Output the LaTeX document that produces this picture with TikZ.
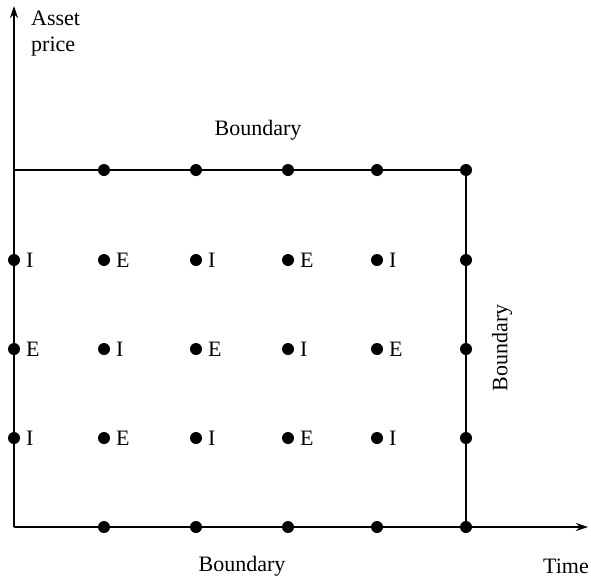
\documentclass[tikz,border=0pt]{standalone}
\usepackage{fontspec}
\setmainfont{Liberation Serif}
\usetikzlibrary{arrows.meta}
\begin{document}
\begin{tikzpicture}[x=1pt,y=-1pt,
  pt/.style={circle,fill=black,inner sep=0pt,minimum width=12pt,minimum height=12pt},
  lbl/.style={anchor=west,font=\fontsize{22}{26}\selectfont,inner sep=0pt},
  txt/.style={font=\fontsize{22}{26}\selectfont,inner sep=0pt},
  ln/.style={line width=1.3pt},
  ax/.style={line width=1.3pt,-{Stealth[length=12pt,width=8pt]}}]
\useasboundingbox (0,0) rectangle (591,581);
% axes
\coordinate (O) at (14,527);
\coordinate (Ytop) at (14,6);
\coordinate (Xend) at (588,527);
\coordinate (TL) at (14,170);
\draw[ax] (O) -- (Ytop);
\draw[ax] (O) -- (Xend);
% dots
\foreach \c/\x in {1/104,2/196,3/288,4/377,5/466} {
  \node[pt] (t\c) at (\x,170) {};
  \node[pt] (b\c) at (\x,527) {};
}
\draw[ln] (TL) -- (t5) -- (b5);
\foreach \r/\y in {1/260,2/349,3/438} {
  \foreach \c/\x in {0/14,1/104,2/196,3/288,4/377,5/466} {
    \node[pt] (d\r\c) at (\x,\y) {};
  }
}
% labels
\foreach \r/\a/\b in {1/I/E,2/E/I,3/I/E} {
  \node[lbl] at ([xshift=12pt]d\r0.center) {\a};
  \node[lbl] at ([xshift=12pt]d\r1.center) {\b};
  \node[lbl] at ([xshift=12pt]d\r2.center) {\a};
  \node[lbl] at ([xshift=12pt]d\r3.center) {\b};
  \node[lbl] at ([xshift=12pt]d\r4.center) {\a};
}
\node[txt] (bt) at (258,130) {Boundary};
\node[txt] (bb) at (242,566) {Boundary};
\node[txt,rotate=90] (br) at (502,348) {Boundary};
\node[txt,anchor=east] (time) at (589,566) {Time};
\node[txt,anchor=north west,align=left] (ap) at (31,11) {Asset\\price};
\end{tikzpicture}
\end{document}
